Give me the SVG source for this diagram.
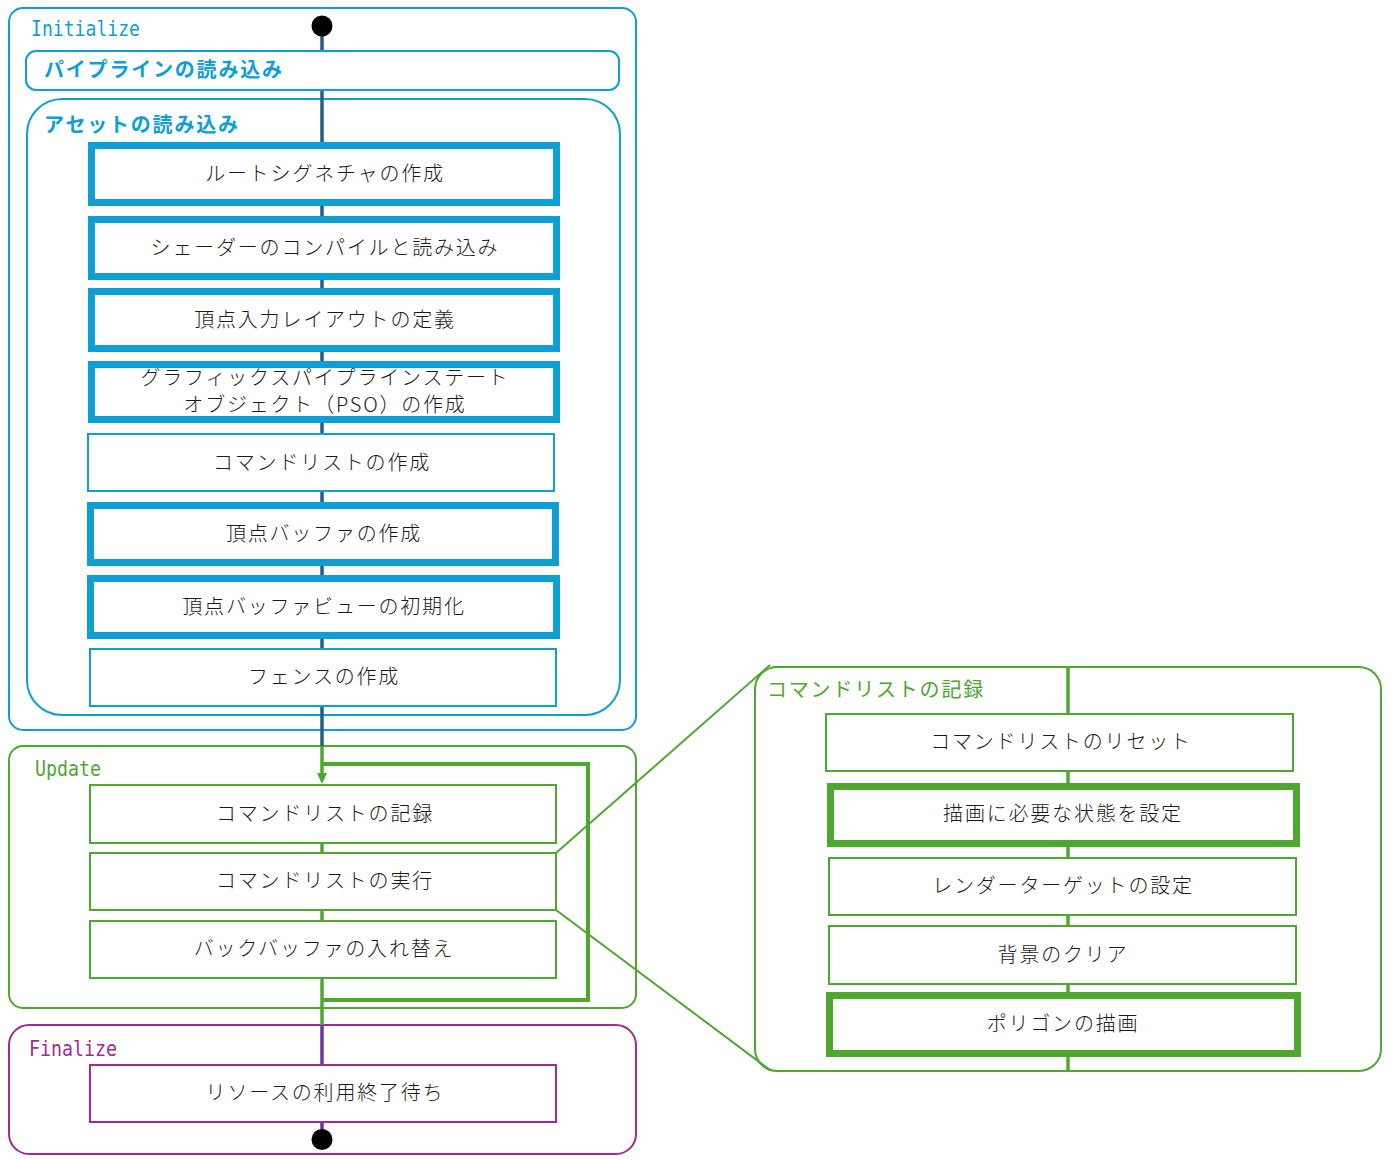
<svg xmlns="http://www.w3.org/2000/svg" width="1391" height="1160" viewBox="0 0 1391 1160">
<style>
.lbl{font-family:"Noto Sans CJK JP","Noto Sans",sans-serif;font-size:20px;letter-spacing:1.8px;text-anchor:middle;dominant-baseline:central;fill:#1a1a1a;font-weight:300}
.grp{font-family:"Noto Sans CJK JP","Noto Sans",sans-serif;font-size:20px;letter-spacing:1.8px;dominant-baseline:central}
.mono{font-family:"DejaVu Sans Mono","Liberation Mono",monospace;font-size:22px}
.cb{fill:none;stroke:#0e9fd5;stroke-width:2}
.tb{fill:#fff;stroke:#0e9fd5;stroke-width:7}
.nb{fill:#fff;stroke:#0e9fd5;stroke-width:2}
.tg{fill:#fff;stroke:#4ea72e;stroke-width:7}
.ng{fill:#fff;stroke:#4ea72e;stroke-width:2}
.np{fill:#fff;stroke:#a02b93;stroke-width:2}
</style>
<defs>
<marker id="arr" markerUnits="userSpaceOnUse" markerWidth="11" markerHeight="10" refX="0" refY="5" orient="auto">
<path d="M0,0 L11,5 L0,10 z" fill="#4ea72e"/>
</marker>
</defs>

<g id="initialize">
<rect x="9" y="8" width="627" height="722" rx="14" fill="#fff" stroke="#0e9fd5" stroke-width="2"/>
<text class="mono" x="31" y="36" fill="#0e9fd5" textLength="109" lengthAdjust="spacingAndGlyphs">Initialize</text>
</g>
<g id="asset-load">
<rect x="27" y="99" width="593" height="616" rx="35" class="cb"/>
<text class="grp" x="44" y="123" fill="#0e9fd5" font-weight="bold">アセットの読み込み</text>
</g>
<g id="update">
<rect x="9" y="746" width="627" height="262" rx="14" fill="#fff" stroke="#4ea72e" stroke-width="2"/>
<text class="mono" x="35" y="776" fill="#4ea72e" textLength="66" lengthAdjust="spacingAndGlyphs">Update</text>
</g>
<g id="finalize">
<rect x="9" y="1025" width="627" height="129" rx="20" fill="#fff" stroke="#a02b93" stroke-width="2"/>
<text class="mono" x="29" y="1056" fill="#a02b93" textLength="88" lengthAdjust="spacingAndGlyphs">Finalize</text>
</g>
<g id="record-detail">
<rect x="755" y="667" width="626" height="404" rx="22" fill="#fff" stroke="#4ea72e" stroke-width="2"/>
<text class="grp" x="767" y="688" fill="#4ea72e">コマンドリストの記録</text>
</g>

<g id="connectors" fill="none">
<line x1="322" y1="26" x2="322" y2="746" stroke="#1f5f8b" stroke-width="3.5"/>
<line x1="322" y1="746" x2="322" y2="773" stroke="#4ea72e" stroke-width="3.5" marker-end="url(#arr)"/>
<line x1="322" y1="843" x2="322" y2="1025" stroke="#4ea72e" stroke-width="3.5"/>
<polyline points="322,764 588,764 588,1000 322,1000" stroke="#4ea72e" stroke-width="4"/>
<line x1="322" y1="1025" x2="322" y2="1135" stroke="#7030a0" stroke-width="3.5"/>
<line x1="1068" y1="667" x2="1068" y2="1071" stroke="#4ea72e" stroke-width="3.5"/>
<line x1="556" y1="853" x2="770" y2="665" stroke="#4ea72e" stroke-width="2"/>
<line x1="556" y1="910" x2="770" y2="1070" stroke="#4ea72e" stroke-width="2"/>
</g>

<g id="start"><circle cx="322" cy="26" r="10.5" fill="#000"/></g>
<g id="pipeline-load">
<rect x="26" y="51" width="593" height="39" rx="10" fill="#fff" stroke="#0e9fd5" stroke-width="2"/>
<text class="grp" x="44" y="68.5" fill="#0e9fd5" font-weight="bold">パイプラインの読み込み</text>
</g>
<g id="n1"><rect class="tb" x="91.5" y="145.5" width="465" height="57"/><text class="lbl" x="325" y="172">ルートシグネチャの作成</text></g>
<g id="n2"><rect class="tb" x="91.5" y="219.5" width="465" height="57"/><text class="lbl" x="325" y="246">シェーダーのコンパイルと読み込み</text></g>
<g id="n3"><rect class="tb" x="91.5" y="291.5" width="465" height="57"/><text class="lbl" x="325" y="318">頂点入力レイアウトの定義</text></g>
<g id="n4"><rect class="tb" x="91.5" y="364.5" width="465" height="55"/><text class="lbl" x="325" y="376">グラフィックスパイプラインステート</text><text class="lbl" x="325" y="403">オブジェクト（PSO）の作成</text></g>
<g id="n5"><rect class="nb" x="88" y="434" width="466" height="57"/><text class="lbl" x="322" y="461">コマンドリストの作成</text></g>
<g id="n6"><rect class="tb" x="90.5" y="505.5" width="465" height="57"/><text class="lbl" x="324" y="532">頂点バッファの作成</text></g>
<g id="n7"><rect class="tb" x="90.5" y="578.5" width="466" height="57"/><text class="lbl" x="324" y="605">頂点バッファビューの初期化</text></g>
<g id="n8"><rect class="nb" x="90" y="649" width="466" height="57"/><text class="lbl" x="324" y="675">フェンスの作成</text></g>

<g id="u1"><rect class="ng" x="90" y="785" width="466" height="58"/><text class="lbl" x="325" y="812">コマンドリストの記録</text></g>
<g id="u2"><rect class="ng" x="90" y="853" width="466" height="57"/><text class="lbl" x="325" y="879">コマンドリストの実行</text></g>
<g id="u3"><rect class="ng" x="90" y="921" width="466" height="57"/><text class="lbl" x="324" y="947">バックバッファの入れ替え</text></g>

<g id="f1"><rect class="np" x="90" y="1065" width="466" height="57"/><text class="lbl" x="325" y="1091">リソースの利用終了待ち</text></g>
<g id="end"><circle cx="322" cy="1139.5" r="10.5" fill="#000"/></g>

<g id="r1"><rect class="ng" x="826" y="714" width="467" height="57"/><text class="lbl" x="1061" y="740">コマンドリストのリセット</text></g>
<g id="r2"><rect class="tg" x="830.5" y="786.5" width="466" height="57"/><text class="lbl" x="1063" y="812">描画に必要な状態を設定</text></g>
<g id="r3"><rect class="ng" x="829" y="858" width="467" height="57"/><text class="lbl" x="1063" y="884">レンダーターゲットの設定</text></g>
<g id="r4"><rect class="ng" x="829" y="926" width="467" height="58"/><text class="lbl" x="1063" y="953">背景のクリア</text></g>
<g id="r5"><rect class="tg" x="829.5" y="995.5" width="468" height="58"/><text class="lbl" x="1063" y="1022">ポリゴンの描画</text></g>
</svg>
